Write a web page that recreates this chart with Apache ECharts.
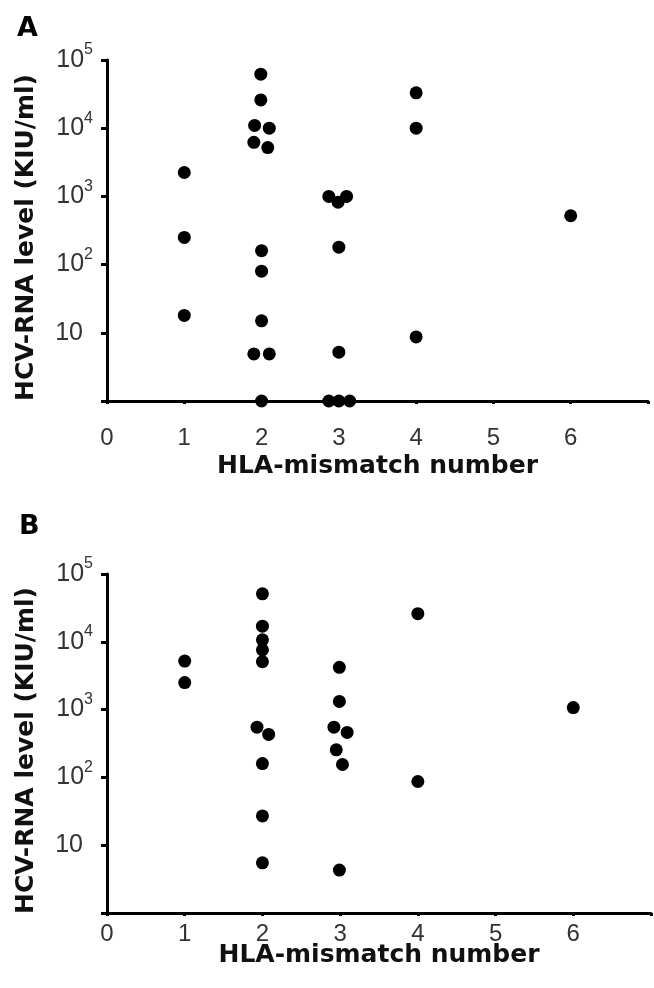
<!DOCTYPE html>
<html>
<head>
<meta charset="utf-8">
<script src="https://cdn.jsdelivr.net/npm/echarts@6/dist/echarts.min.js"></script>
<style>
  html, body { margin: 0; padding: 0; background: #fff; }
  #chart { width: 654px; height: 988px; }
</style>
</head>
<body>
<div id="chart"></div>
<script>
  // panel A: HLA-mismatch number (slightly jittered as drawn) and HCV-RNA level
  const aMismatch = [1, 1, 1,
    1.99, 1.99, 1.91, 2.1, 1.9, 2.08, 2, 2, 2, 1.9, 2.1, 2,
    2.87, 3.1, 2.99, 3, 3, 2.87, 3, 3.14,
    4, 4, 4,
    6]
  const aLevel = [2240, 250, 18,
    62000, 26000, 11000, 10000, 6200, 5200, 160, 80, 15, 4.9, 4.9, 1,
    1000, 1000, 820, 180, 5.2, 1, 1, 1,
    33000, 10000, 8.7,
    520]

  // panel B
  const bMismatch = [1, 1,
    2, 2, 2, 2, 2, 1.93, 2.08, 2, 2, 2,
    2.99, 2.99, 2.92, 3.09, 2.95, 3.03, 2.99,
    4, 4,
    6]
  const bLevel = [5200, 2500,
    51000, 17000, 10700, 7600, 5100, 550, 430, 160, 27, 5.5,
    4200, 1320, 550, 460, 255, 155, 4.3,
    26000, 87,
    1070]

  const xTicks = [0, 1, 2, 3, 4, 5, 6]
  const panelLabels = ['A', 'B']

  const ink = '#000'
  const tickFont = 'Liberation Sans, Arial, sans-serif'
  const titleFont = 'DejaVu Sans, sans-serif'

  function pairs(xs, ys) {
    return xs.map((x, i) => [x, ys[i]])
  }

  function xAxisOf(idx, margin, gap) {
    return {
      type: 'value',
      gridIndex: idx,
      min: 0,
      max: 7,
      interval: 1,
      name: 'HLA-mismatch number',
      nameLocation: 'middle',
      nameGap: gap,
      nameMoveOverlap: false,
      nameTextStyle: { fontFamily: titleFont, fontWeight: 'bold', fontSize: 25, color: '#111' },
      axisLine: { onZero: false, lineStyle: { color: ink, width: 3 } },
      axisTick: { show: true, length: 3, lineStyle: { color: ink, width: 3 } },
      splitLine: { show: false },
      axisLabel: {
        margin: margin,
        fontFamily: tickFont,
        fontSize: 24,
        color: '#333',
        formatter: function(v) {
          return xTicks.indexOf(v) >= 0 ? String(v) : ''
        }
      }
    }
  }

  function yAxisOf(idx) {
    return {
      type: 'log',
      logBase: 10,
      gridIndex: idx,
      min: 1,
      max: 100000,
      splitNumber: 5,
      name: 'HCV-RNA level (KIU/ml)',
      nameLocation: 'middle',
      nameGap: 68,
      nameTextStyle: { fontFamily: titleFont, fontWeight: 'bold', fontSize: 25, color: '#111', padding: [0, 14, 0, 0] },
      axisLine: { show: true, lineStyle: { color: ink, width: 3 } },
      axisTick: { show: true, length: 6, lineStyle: { color: ink, width: 3 } },
      splitLine: { show: false },
      axisLabel: {
        margin: 14,
        color: '#333',
        fontFamily: tickFont,
        formatter: function(v) {
          let p = Math.round(Math.log10(v))
          if (p === 0) return ''
          if (p === 1) return '{b|10}{p|}'
          return '{b|10}{s|' + p + '}'
        },
        rich: {
          b: { fontFamily: tickFont, fontSize: 25, lineHeight: 36, color: '#333' },
          s: { fontFamily: tickFont, fontSize: 16, lineHeight: 16, verticalAlign: 'top', color: '#333' },
          p: { width: 10, lineHeight: 16 }
        }
      }
    }
  }

  const chart = echarts.init(document.getElementById('chart'))
  chart.setOption({
    animation: false,
    backgroundColor: '#fff',
    title: [
      { text: panelLabels[0], left: 17, top: 15, padding: 0,
        textStyle: { fontFamily: titleFont, fontWeight: 'bold', fontSize: 27, color: ink } },
      { text: panelLabels[1], left: 19, top: 513, padding: 0,
        textStyle: { fontFamily: titleFont, fontWeight: 'bold', fontSize: 27, color: ink } }
    ],
    grid: [
      { left: 107, top: 60, width: 541, height: 341 },
      { left: 107, top: 574, width: 545, height: 339 }
    ],
    xAxis: [xAxisOf(0, 25, 53), xAxisOf(1, 9, 30)],
    yAxis: [yAxisOf(0), yAxisOf(1)],
    series: [
      {
        type: 'scatter',
        xAxisIndex: 0,
        yAxisIndex: 0,
        symbol: 'circle',
        symbolSize: 13,
        clip: false,
        itemStyle: { color: ink, opacity: 1 },
        data: pairs(aMismatch, aLevel)
      },
      {
        type: 'scatter',
        xAxisIndex: 1,
        yAxisIndex: 1,
        symbol: 'circle',
        symbolSize: 13,
        clip: false,
        itemStyle: { color: ink, opacity: 1 },
        data: pairs(bMismatch, bLevel)
      }
    ]
  })
</script>
</body>
</html>
